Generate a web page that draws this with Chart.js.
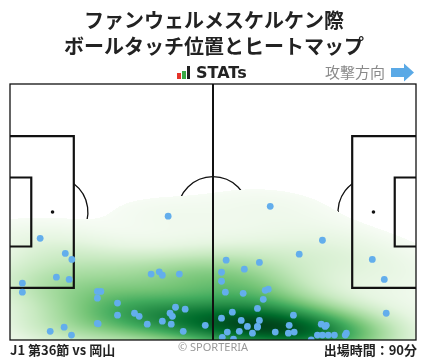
<!DOCTYPE html>
<html>
<head>
<meta charset="utf-8">
<script src="https://cdn.jsdelivr.net/npm/chart.js@4.4.0/dist/chart.umd.min.js"></script>
<style>
  html, body { margin: 0; padding: 0; background: #fff; }
  #wrap { width: 428px; height: 359px; }
</style>
</head>
<body>
<div id="wrap"><canvas id="chart" width="428" height="359"></canvas></div>
<script>
// ball touch positions in pitch metres (x: own goal -> attack, y: from bottom touchline)
const touchX = [40.9, 7.8, 14.3, 16.0, 3.2, 3.2, 12.0, 15.3, 36.5, 38.6, 39.4, 43.8, 22.6, 23.5, 22.6, 27.8,
  27.8, 32.2, 33.4, 35.5, 39.4, 41.7, 41.4, 42.0, 42.8, 45.3, 44.8, 50.5, 22.6, 22.8, 10.4, 14.0, 15.9,
  67.3, 80.8, 74.8, 55.9, 64.5, 54.7, 60.6, 54.7, 55.7, 60.3, 66.0, 66.8, 65.5, 93.7, 96.8, 97.3, 64.0,
  57.5, 73.3, 54.7, 59.8, 64.5, 61.4, 64.0, 64.0, 72.2, 80.5, 81.8, 81.5, 56.2, 59.3, 62.7, 68.6, 72.0,
  73.5, 54.9, 57.8, 77.9, 79.5, 80.8, 82.3, 83.9, 86.7, 87.0];
const touchY = [32.9, 27.0, 23.0, 21.4, 15.1, 12.7, 16.7, 16.1, 17.5, 18.1, 17.2, 17.5, 12.9, 12.9, 11.1, 9.8,
  6.6, 7.1, 6.3, 4.2, 5.0, 4.2, 7.1, 6.3, 8.7, 8.2, 2.3, 3.9, 4.4, 4.3, 2.3, 3.4, 1.3,
  35.5, 26.5, 22.8, 21.2, 20.6, 18.0, 18.8, 15.6, 12.7, 12.4, 13.2, 13.5, 10.8, 21.4, 16.1, 7.1, 8.4,
  7.4, 6.6, 5.8, 5.2, 5.2, 3.6, 3.6, 3.4, 3.9, 4.2, 3.9, 3.6, 2.1, 2.3, 1.8, 2.1, 1.8,
  2.1, 0.7, 0.2, 0.0, 1.3, 1.3, 1.3, 1.3, 1.3, 1.8];

const pitchLength = 105;
const pitchWidth = 68;

const titleLines = ['ファンウェルメスケルケン際', 'ボールタッチ位置とヒートマップ'];
const matchLabel = 'J1 第36節 vs 岡山';
const minutesLabel = '出場時間：90分';

const greens = [[247,252,245],[229,245,224],[199,233,192],[161,217,155],[116,196,118],
  [65,171,93],[35,139,69],[0,109,44],[0,68,27]];

function greenAt(t) {
  t = Math.max(0, Math.min(1, t)) * (greens.length - 1);
  const i = Math.min(greens.length - 2, Math.floor(t));
  const f = t - i;
  const a = greens[i], b = greens[i + 1];
  return [a[0] + (b[0] - a[0]) * f, a[1] + (b[1] - a[1]) * f, a[2] + (b[2] - a[2]) * f];
}

let heatCanvas = null;

function buildHeat(chart) {
  const area = chart.chartArea;
  const xs = chart.scales.x, ys = chart.scales.y;
  const w = Math.round(area.right - area.left), h = Math.round(area.bottom - area.top);
  const n = touchX.length;
  // gaussian kde, scott's rule
  let mx = 0, my = 0;
  for (let i = 0; i < n; i++) { mx += touchX[i]; my += touchY[i]; }
  mx /= n; my /= n;
  let sxx = 0, syy = 0, sxy = 0;
  for (let i = 0; i < n; i++) {
    const dx = touchX[i] - mx, dy = touchY[i] - my;
    sxx += dx * dx; syy += dy * dy; sxy += dx * dy;
  }
  sxx /= (n - 1); syy /= (n - 1); sxy /= (n - 1);
  const f = Math.pow(n, -1 / 6) * 1.1;
  const a = sxx * f * f, d = syy * f * f, b = sxy * f * f;
  const det = a * d - b * b;
  const ia = d / det, id = a / det, ib = -b / det;
  const kde = (x, y) => {
    let s = 0;
    for (let k = 0; k < n; k++) {
      const dx = x - touchX[k], dy = y - touchY[k];
      s += Math.exp(-0.5 * (ia * dx * dx + 2 * ib * dx * dy + id * dy * dy));
    }
    return s;
  };

  // threshold level from a wider grid (data range +- 3 bandwidths)
  const bx = Math.sqrt(a), by = Math.sqrt(d);
  const x0 = Math.min(...touchX) - 3 * bx, x1 = Math.max(...touchX) + 3 * bx;
  const y0 = Math.min(...touchY) - 3 * by, y1 = Math.max(...touchY) + 3 * by;
  const g = 150, wide = [];
  for (let j = 0; j < g; j++) {
    for (let i = 0; i < g; i++) {
      wide.push(kde(x0 + (x1 - x0) * i / (g - 1), y0 + (y1 - y0) * j / (g - 1)));
    }
  }
  wide.sort((p, q) => p - q);
  let total = 0;
  for (const v of wide) total += v;
  const thresh = 0.024;
  let cum = 0, dth = wide[0];
  for (const v of wide) { cum += v; if (cum >= total * thresh) { dth = v; break; } }
  const dmax = wide[wide.length - 1];

  heatCanvas = document.createElement('canvas');
  heatCanvas.width = w; heatCanvas.height = h;
  const hctx = heatCanvas.getContext('2d');
  const img = hctx.createImageData(w, h);
  for (let j = 0; j < h; j++) {
    const y = ys.getValueForPixel(area.top + j + 0.5);
    for (let i = 0; i < w; i++) {
      const x = xs.getValueForPixel(area.left + i + 0.5);
      const v = kde(x, y);
      if (v < dth) continue;
      const c = greenAt(Math.pow((v - dth) / (dmax - dth), 0.85));
      const p = (j * w + i) * 4;
      img.data[p] = c[0]; img.data[p + 1] = c[1]; img.data[p + 2] = c[2]; img.data[p + 3] = 255;
    }
  }
  hctx.putImageData(img, 0, 0);
}

const pitchPlugin = {
  id: 'pitch',
  beforeDatasetsDraw(chart) {
    const ctx = chart.ctx;
    const area = chart.chartArea;
    const xs = chart.scales.x, ys = chart.scales.y;
    const px = v => xs.getPixelForValue(v);
    const py = v => ys.getPixelForValue(v);
    const sx = px(1) - px(0);
    const mid = pitchWidth / 2;

    ctx.save();
    ctx.beginPath();
    ctx.rect(area.left, area.top, area.right - area.left, area.bottom - area.top);
    ctx.clip();
    // circles and arcs sit under the heatmap
    ctx.strokeStyle = '#111';
    ctx.lineWidth = 1.3;
    ctx.beginPath();
    ctx.arc(px(pitchLength / 2), py(mid), 9.15 * sx, 0, Math.PI * 2);
    ctx.stroke();
    const ang = Math.acos(5.5 / 9.15);
    ctx.beginPath();
    ctx.arc(px(11), py(mid), 9.15 * sx, -ang, ang);
    ctx.stroke();
    ctx.beginPath();
    ctx.arc(px(pitchLength - 11), py(mid), 9.15 * sx, Math.PI - ang, Math.PI + ang);
    ctx.stroke();
    ctx.fillStyle = '#111';
    [11, pitchLength - 11].forEach(v => {
      ctx.beginPath();
      ctx.arc(px(v), py(mid), 1.8, 0, Math.PI * 2);
      ctx.fill();
    });

    if (!heatCanvas) buildHeat(chart);
    ctx.drawImage(heatCanvas, Math.round(area.left), Math.round(area.top));
    ctx.restore();

    // lines over the heatmap
    ctx.save();
    ctx.strokeStyle = '#111';
    ctx.lineWidth = 2;
    ctx.beginPath();
    ctx.moveTo(px(pitchLength / 2), py(0));
    ctx.lineTo(px(pitchLength / 2), py(pitchWidth));
    ctx.stroke();
    ctx.lineWidth = 2.2;
    const box = (x0, x1, half) => {
      ctx.beginPath();
      ctx.moveTo(px(x0), py(mid + half));
      ctx.lineTo(px(x1), py(mid + half));
      ctx.lineTo(px(x1), py(mid - half));
      ctx.lineTo(px(x0), py(mid - half));
      ctx.stroke();
    };
    box(0, 16.5, 20.16);
    box(0, 5.5, 9.16);
    box(pitchLength, pitchLength - 16.5, 20.16);
    box(pitchLength, pitchLength - 5.5, 9.16);
    ctx.restore();
  },
  afterDatasetsDraw(chart) {
    const ctx = chart.ctx;
    const xs = chart.scales.x, ys = chart.scales.y;
    ctx.save();
    ctx.strokeStyle = '#111';
    ctx.lineWidth = 1.3;
    ctx.strokeRect(xs.getPixelForValue(0), ys.getPixelForValue(pitchWidth),
      xs.getPixelForValue(pitchLength) - xs.getPixelForValue(0),
      ys.getPixelForValue(0) - ys.getPixelForValue(pitchWidth));
    ctx.restore();
  },
  afterDraw(chart) {
    const ctx = chart.ctx;
    ctx.save();
    ctx.fillStyle = '#222';
    ctx.textAlign = 'center';
    ctx.textBaseline = 'middle';
    ctx.font = 'bold 20px "Noto Sans CJK JP"';
    ctx.fillText(titleLines[0], 214, 20);
    ctx.fillText(titleLines[1], 214, 46);

    // STATs logo
    ctx.fillStyle = '#e5332a';
    ctx.fillRect(177, 73, 4, 6);
    ctx.fillStyle = '#3aa845';
    ctx.fillRect(182, 71, 4, 8);
    ctx.fillStyle = '#222';
    ctx.fillRect(187, 66, 3, 13);
    ctx.textAlign = 'left';
    ctx.font = 'bold 16px "DejaVu Sans"';
    ctx.fillText('STATs', 196, 74);

    // attack direction
    ctx.fillStyle = '#8a8a8a';
    ctx.font = '15px "Noto Sans CJK JP"';
    ctx.textAlign = 'right';
    ctx.fillText('攻撃方向', 385, 72);
    ctx.fillStyle = '#5aa9e6';
    ctx.fillRect(391, 68, 14, 9);
    ctx.beginPath();
    ctx.moveTo(404, 63.5);
    ctx.lineTo(414, 72.5);
    ctx.lineTo(404, 81.5);
    ctx.closePath();
    ctx.fill();

    // footer
    ctx.fillStyle = '#222';
    ctx.font = 'bold 13px "Noto Sans CJK JP"';
    ctx.textAlign = 'left';
    ctx.fillText(matchLabel, 10, 350);
    ctx.textAlign = 'right';
    ctx.fillText(minutesLabel, 417, 350);
    ctx.fillStyle = '#999';
    ctx.font = '11px "Noto Sans"';
    ctx.textAlign = 'center';
    ctx.fillText('© SPORTERIA', 213, 348);
    ctx.restore();
  }
};

new Chart(document.getElementById('chart'), {
  type: 'scatter',
  data: {
    datasets: [{
      label: 'ボールタッチ',
      data: touchX.map((x, i) => ({ x: x, y: touchY[i] })),
      backgroundColor: '#63aeec',
      borderWidth: 0,
      pointRadius: 3.4,
      pointHoverRadius: 3.4,
      clip: 0
    }]
  },
  options: {
    responsive: false,
    animation: false,
    events: [],
    layout: { padding: { left: 10, right: 12, top: 84, bottom: 19 } },
    scales: {
      x: { type: 'linear', min: 0, max: pitchLength, display: false },
      y: { type: 'linear', min: 0, max: pitchWidth, display: false }
    },
    plugins: {
      legend: { display: false },
      tooltip: { enabled: false }
    }
  },
  plugins: [pitchPlugin]
});
</script>
</body>
</html>
